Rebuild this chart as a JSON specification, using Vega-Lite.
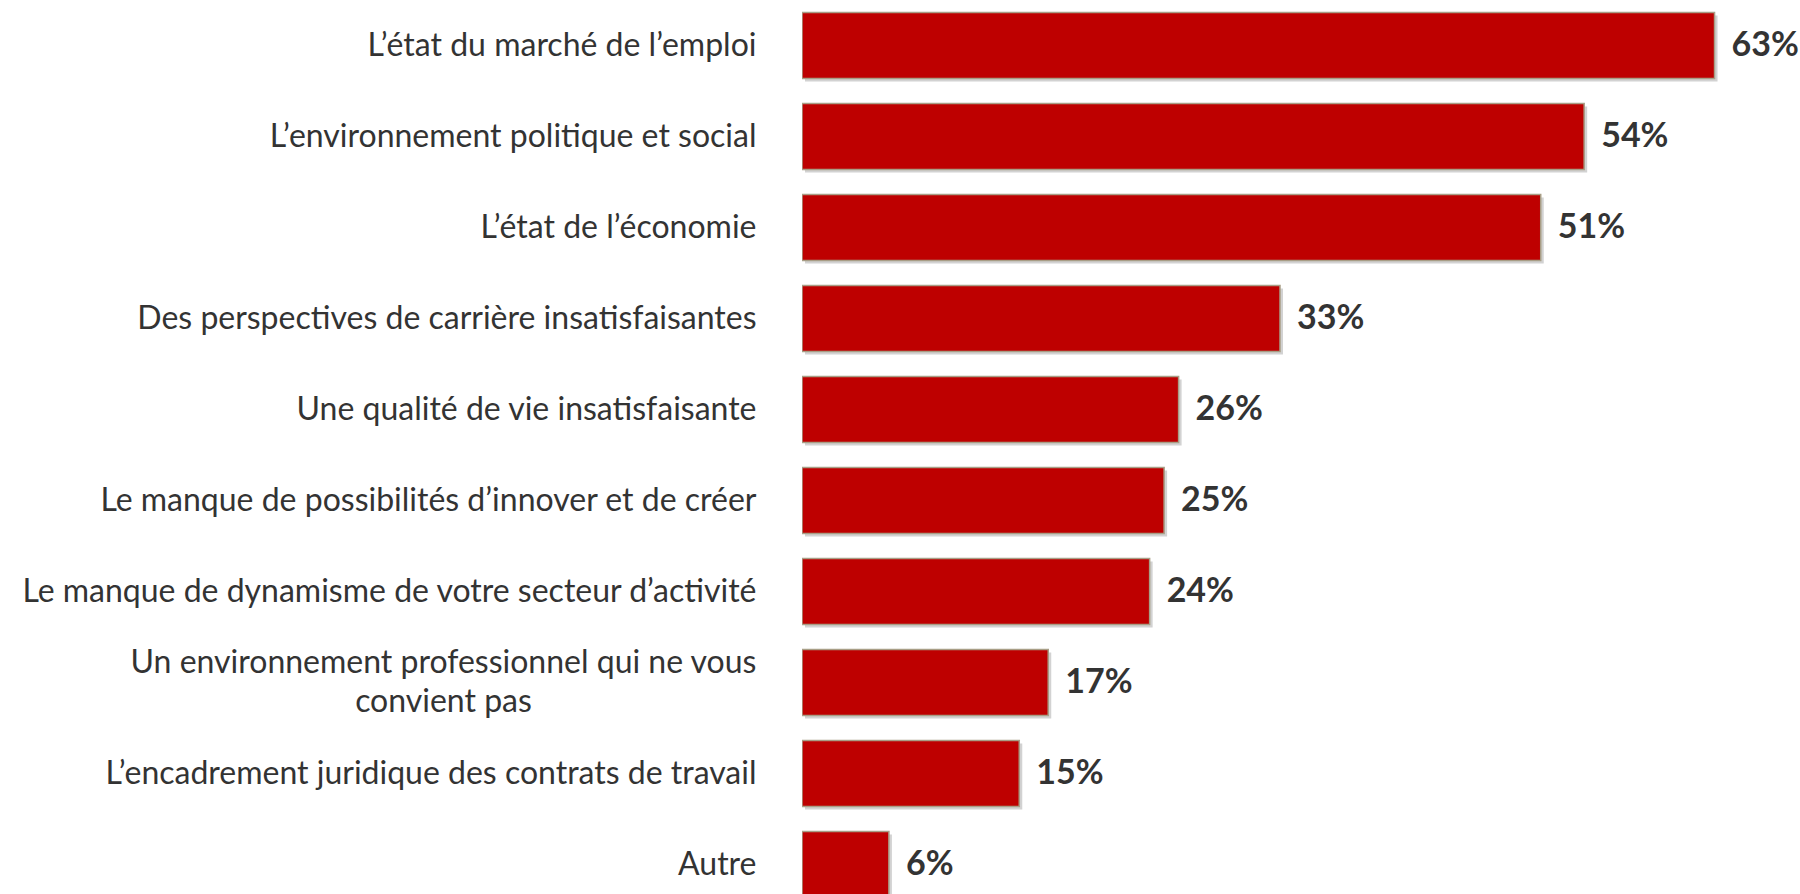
{
  "$schema": "https://vega.github.io/schema/vega-lite/v6.json",
  "width": 998,
  "height": 894,
  "autosize": {"type": "none"},
  "padding": {"left": 802, "top": 0, "right": 0, "bottom": 0},
  "background": "white",
  "config": {"view": {"stroke": null}},
  "data": {
    "values": [
      {"item": "L’état du marché de l’emploi", "pct": 0.63},
      {"item": "L’environnement politique et social", "pct": 0.54},
      {"item": "L’état de l’économie", "pct": 0.51},
      {"item": "Des perspectives de carrière insatisfaisantes", "pct": 0.33},
      {"item": "Une qualité de vie insatisfaisante", "pct": 0.26},
      {"item": "Le manque de possibilités d’innover et de créer", "pct": 0.25},
      {"item": "Le manque de dynamisme de votre secteur d’activité", "pct": 0.24},
      {"item": "Un environnement professionnel qui ne vous convient pas", "pct": 0.17},
      {"item": "L’encadrement juridique des contrats de travail", "pct": 0.15},
      {"item": "Autre", "pct": 0.06}
    ]
  },
  "encoding": {
    "y": {
      "field": "item",
      "type": "nominal",
      "sort": null,
      "scale": {"range": [0, 910], "paddingInner": 0.275, "paddingOuter": 0.1375},
      "axis": {
        "title": null,
        "domain": false,
        "ticks": false,
        "labelFont": "Lato",
        "labelFontSize": 32,
        "labelColor": "#333333",
        "labelLimit": 0,
        "labelLineHeight": 39,
        "labelBaseline": "middle",
        "labelAlign": {"condition": {"test": "datum.label == 'Un environnement professionnel qui ne vous convient pas'", "value": "center"}, "value": "right"},
        "labelPadding": {"condition": {"test": "datum.label == 'Un environnement professionnel qui ne vous convient pas'", "value": 359}, "value": 46},
        "labelOffset": {"condition": {"test": "datum.label == 'Un environnement professionnel qui ne vous convient pas'", "value": -20}, "value": 0},
        "labelExpr": "datum.label == 'Un environnement professionnel qui ne vous convient pas' ? ['Un environnement professionnel qui ne vous', 'convient pas'] : datum.label"
      }
    },
    "x": {"field": "pct", "type": "quantitative", "scale": {"domain": [0, 0.689]}, "axis": null}
  },
  "layer": [
    {"mark": {"type": "bar", "fill": "#d2d2d2", "xOffset": 3, "yOffset": 3, "clip": true}},
    {"mark": {"type": "bar", "fill": "#BE0000", "stroke": "#A89E86", "strokeWidth": 1.5, "clip": true}},
    {
      "mark": {"type": "text", "align": "left", "baseline": "middle", "dx": 17, "font": "Lato", "fontSize": 34, "fontWeight": "bold", "fill": "#333333"},
      "encoding": {"text": {"field": "pct", "type": "quantitative", "format": ".0%"}}
    }
  ]
}
